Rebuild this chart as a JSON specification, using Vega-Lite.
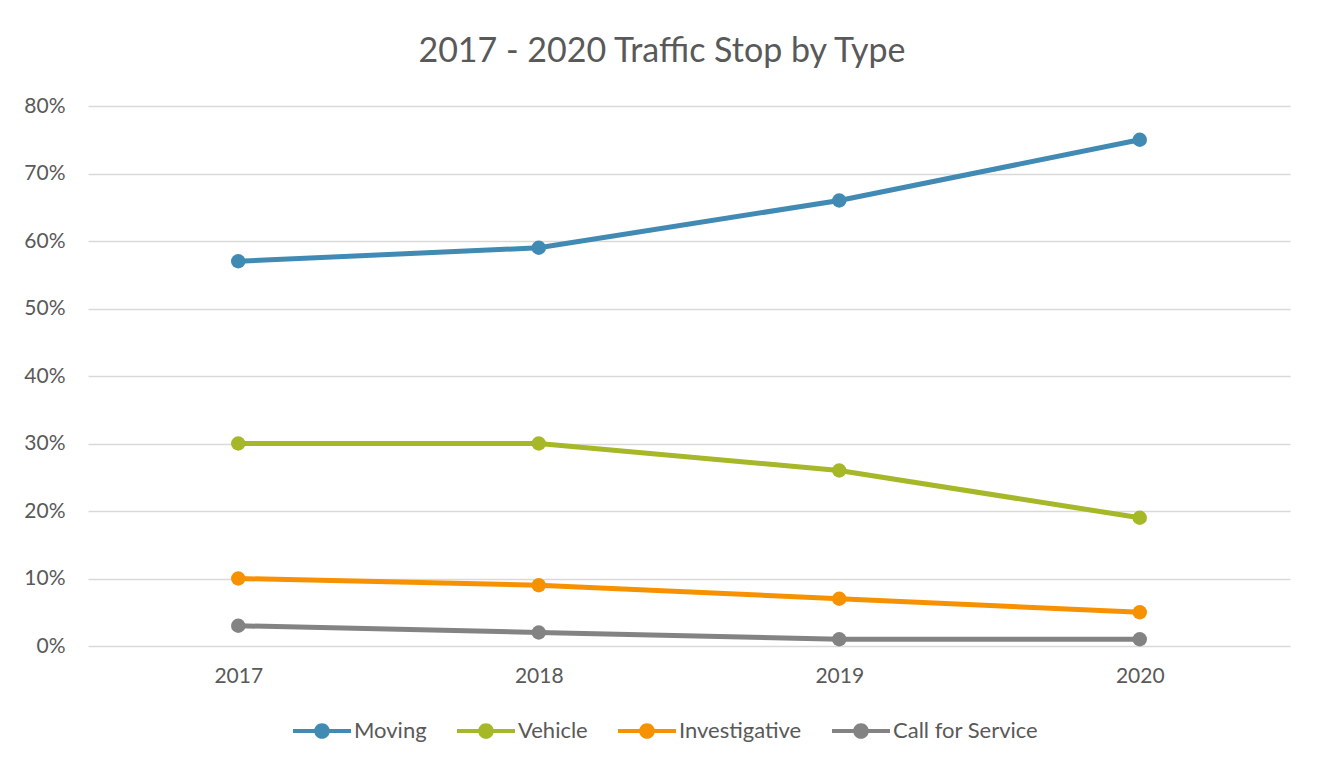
{
  "$schema": "https://vega.github.io/schema/vega-lite/v6.json",
  "width": 1202,
  "height": 540,
  "autosize": {"type": "none"},
  "padding": {"left": 88, "top": 106, "right": 31, "bottom": 117},
  "background": "white",
  "title": {
    "text": "2017 - 2020 Traffic Stop by Type",
    "font": "Lato",
    "fontSize": 34,
    "fontWeight": "normal",
    "color": "#595959",
    "anchor": "middle",
    "dx": -27,
    "offset": 26
  },
  "data": {
    "values": [
      {"year": "2017", "type": "Moving", "pct": 0.57},
      {"year": "2018", "type": "Moving", "pct": 0.59},
      {"year": "2019", "type": "Moving", "pct": 0.66},
      {"year": "2020", "type": "Moving", "pct": 0.75},
      {"year": "2017", "type": "Vehicle", "pct": 0.30},
      {"year": "2018", "type": "Vehicle", "pct": 0.30},
      {"year": "2019", "type": "Vehicle", "pct": 0.26},
      {"year": "2020", "type": "Vehicle", "pct": 0.19},
      {"year": "2017", "type": "Investigative", "pct": 0.10},
      {"year": "2018", "type": "Investigative", "pct": 0.09},
      {"year": "2019", "type": "Investigative", "pct": 0.07},
      {"year": "2020", "type": "Investigative", "pct": 0.05},
      {"year": "2017", "type": "Call for Service", "pct": 0.03},
      {"year": "2018", "type": "Call for Service", "pct": 0.02},
      {"year": "2019", "type": "Call for Service", "pct": 0.01},
      {"year": "2020", "type": "Call for Service", "pct": 0.01}
    ]
  },
  "encoding": {
    "x": {
      "field": "year", "type": "ordinal", "title": null,
      "scale": {"type": "point", "padding": 0.5},
      "axis": {"labelAngle": 0, "grid": false, "domain": false, "ticks": false, "labelPadding": 19, "labelFontSize": 21, "labelFont": "Lato", "labelColor": "#595959"}
    },
    "y": {
      "field": "pct", "type": "quantitative", "title": null,
      "scale": {"domain": [0, 0.8], "nice": false},
      "axis": {"format": ".0%", "values": [0, 0.1, 0.2, 0.3, 0.4, 0.5, 0.6, 0.7, 0.8], "domain": false, "ticks": false, "labelPadding": 23, "labelFontSize": 21, "labelFont": "Lato", "labelColor": "#595959", "gridColor": "#d9d9d9", "gridWidth": 1.5}
    },
    "color": {
      "field": "type", "type": "nominal", "title": null,
      "sort": ["Moving", "Vehicle", "Investigative", "Call for Service"],
      "scale": {"domain": ["Moving", "Vehicle", "Investigative", "Call for Service"], "range": ["#418AB3", "#A6B727", "#F69200", "#838383"]},
      "legend": {
        "orient": "none", "legendX": 205, "legendY": 596, "direction": "horizontal",
        "symbolType": "M-1,-0.07H1V0.07H-1Z M0.27,0A0.27,0.27 0 1,1 -0.27,0A0.27,0.27 0 1,1 0.27,0Z",
        "symbolSize": 3364, "symbolStrokeWidth": 0, "symbolOpacity": 1,
        "labelFontSize": 22, "labelFont": "Lato", "labelColor": "#595959", "labelOffset": 3,
        "columnPadding": 30
      }
    }
  },
  "layer": [
    {"mark": {"type": "line", "strokeWidth": 5}},
    {"mark": {"type": "point", "filled": true, "size": 210, "opacity": 1}}
  ],
  "config": {"view": {"stroke": null}}
}
